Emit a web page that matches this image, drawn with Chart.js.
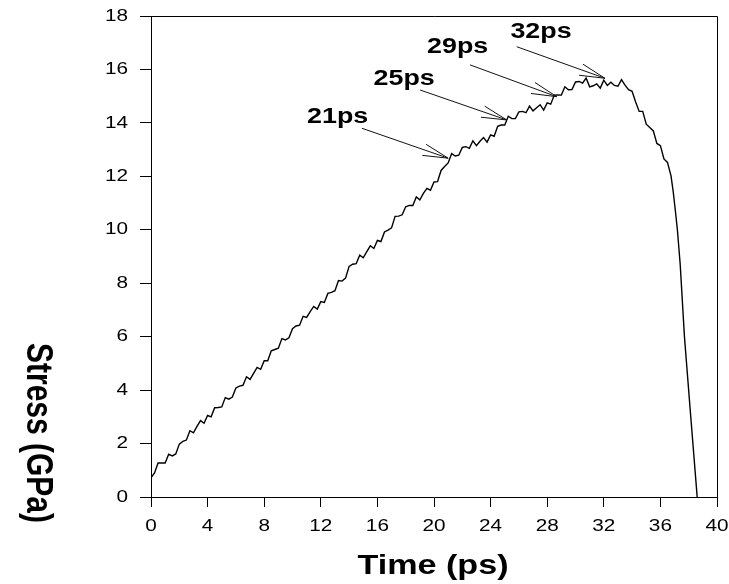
<!DOCTYPE html>
<html>
<head>
<meta charset="utf-8">
<script src="https://cdn.jsdelivr.net/npm/chart.js@4.4.1/dist/chart.umd.min.js"></script>
<style>
    body { margin: 0; background: #fff; }
    #wrap { width: 729px; height: 584px; position: relative; }
</style>
</head>
<body>
<div id="wrap"><canvas id="stressChart"></canvas></div>
<script>
// time axis (ps) and stress (GPa)
const timePs = [
    0, 0.25, 0.5, 0.75, 1, 1.25, 1.5, 1.75,
    2, 2.25, 2.5, 2.75, 3, 3.25, 3.5, 3.75,
    4, 4.25, 4.5, 4.75, 5, 5.25, 5.5, 5.75,
    6, 6.25, 6.5, 6.75, 7, 7.25, 7.5, 7.75,
    8, 8.25, 8.5, 8.75, 9, 9.25, 9.5, 9.75,
    10, 10.25, 10.5, 10.75, 11, 11.25, 11.5, 11.75,
    12, 12.25, 12.5, 12.75, 13, 13.25, 13.5, 13.75,
    14, 14.25, 14.5, 14.75, 15, 15.25, 15.5, 15.75,
    16, 16.25, 16.5, 16.75, 17, 17.25, 17.5, 17.75,
    18, 18.25, 18.5, 18.75, 19, 19.25, 19.5, 19.75,
    20, 20.25, 20.5, 20.75, 21, 21.25, 21.5, 21.75,
    22, 22.25, 22.5, 22.75, 23, 23.25, 23.5, 23.75,
    24, 24.25, 24.5, 24.75, 25, 25.25, 25.5, 25.75,
    26, 26.25, 26.5, 26.75, 27, 27.25, 27.5, 27.75,
    28, 28.25, 28.5, 28.75, 29, 29.25, 29.5, 29.75,
    30, 30.25, 30.5, 30.75, 31, 31.25, 31.5, 31.75,
    32, 32.25, 32.5, 32.75, 33, 33.25, 33.5, 33.75,
    34, 34.25, 34.5, 34.75, 35, 35.25, 35.5, 35.75,
    36, 36.25, 36.5, 36.75,
    36.9, 37.05, 37.2, 37.4, 37.7, 38.1, 38.6
];
const stressGPa = [
    0.72, 0.90, 1.27, 1.27, 1.27, 1.60, 1.54, 1.61,
    1.98, 2.08, 2.13, 2.48, 2.40, 2.64, 2.86, 2.76,
    3.05, 3.00, 3.34, 3.35, 3.37, 3.72, 3.66, 3.74,
    4.08, 4.15, 4.18, 4.50, 4.40, 4.63, 4.85, 4.78,
    5.10, 5.10, 5.47, 5.52, 5.57, 5.93, 5.88, 5.96,
    6.30, 6.40, 6.43, 6.76, 6.72, 6.94, 7.13, 7.03,
    7.31, 7.28, 7.62, 7.66, 7.72, 8.10, 8.08, 8.19,
    8.63, 8.71, 8.73, 9.05, 8.95, 9.18, 9.40, 9.30,
    9.60, 9.56, 9.92, 9.99, 10.07, 10.50, 10.51, 10.56,
    10.86, 10.91, 10.91, 11.23, 11.12, 11.36, 11.55, 11.48,
    11.79, 11.80, 12.22, 12.37, 12.50, 12.85, 12.76, 12.79,
    13.08, 13.11, 13.05, 13.33, 13.15, 13.31, 13.45, 13.28,
    13.55, 13.50, 13.87, 13.92, 13.92, 14.25, 14.16, 14.16,
    14.41, 14.43, 14.38, 14.63, 14.45, 14.57, 14.68, 14.48,
    14.75, 14.70, 15.04, 15.05, 15.04, 15.35, 15.24, 15.25,
    15.53, 15.55, 15.49, 15.68, 15.35, 15.39, 15.46, 15.30,
    15.60, 15.40, 15.52, 15.40, 15.37, 15.62, 15.41, 15.24,
    15.18, 14.78, 14.43, 14.43, 13.95, 13.83, 13.70, 13.23,
    13.15, 12.65, 12.52, 12.02,
    11.45, 10.75, 10.0, 8.7, 6.0, 3.3, 0
];

const xTicks = [0, 4, 8, 12, 16, 20, 24, 28, 32, 36, 40];
const yTicks = [0, 2, 4, 6, 8, 10, 12, 14, 16, 18];

// arrow annotations: label, point on the curve it marks
const arrowLabels = ['21ps', '25ps', '29ps', '32ps'];
const arrowTipTime = [21.0, 25.14, 28.67, 32.08];
const arrowTipStress = [12.68, 14.11, 14.98, 15.67];

const arrowTails = [[14.9, 13.8], [19.02, 15.23], [22.55, 16.17], [25.85, 16.85]];
const labelSpots = [[13.19, 14.0], [17.89, 15.42], [21.67, 16.62], [27.56, 17.18]];

const FONT = '"Liberation Sans", Arial, sans-serif';
const stretchX = 1.22; // the source text is wider than plain Arial

const points = timePs.map( ( t, i ) => ({ x: t, y: stressGPa[i] }) );

const stretchPlugin = {
    id: 'stretch',
    beforeInit( chart ) {
        const ctx = chart.ctx;
        const raw = ctx.fillText.bind( ctx );
        ctx.rawFillText = raw;
        ctx.fillText = function ( text, x, y, maxWidth ) {
            this.save();
            this.translate( x, y );
            this.scale( stretchX, 1 );
            if ( maxWidth === undefined ) raw( text, 0, 0 );
            else raw( text, 0, 0, maxWidth );
            this.restore();
        };
    }
};

const decorPlugin = {
    id: 'decor',
    afterDraw( chart ) {
        const ctx = chart.ctx;
        const a = chart.chartArea;
        const xs = chart.scales.x, ys = chart.scales.y;

        // frame top and right
        ctx.save();
        ctx.strokeStyle = '#000';
        ctx.lineWidth = 1;
        ctx.beginPath();
        ctx.moveTo( a.left, a.top + 0.5 );
        ctx.lineTo( a.right + 0.5, a.top + 0.5 );
        ctx.lineTo( a.right + 0.5, a.bottom );
        ctx.stroke();

        // arrows
        ctx.strokeStyle = '#111';
        for ( let i = 0; i < arrowLabels.length; i++ ) {
            const x1 = xs.getPixelForValue( arrowTails[i][0] );
            const y1 = ys.getPixelForValue( arrowTails[i][1] );
            const x2 = xs.getPixelForValue( arrowTipTime[i] );
            const y2 = ys.getPixelForValue( arrowTipStress[i] );
            const ang = Math.atan2( y2 - y1, x2 - x1 );
            const len = 26, spread = 13 * Math.PI / 180;
            ctx.beginPath();
            ctx.moveTo( x1, y1 );
            ctx.lineTo( x2, y2 );
            ctx.moveTo( x2 - len * Math.cos( ang - spread ), y2 - len * Math.sin( ang - spread ) );
            ctx.lineTo( x2, y2 );
            ctx.lineTo( x2 - len * Math.cos( ang + spread ), y2 - len * Math.sin( ang + spread ) );
            ctx.stroke();

            ctx.fillStyle = '#000';
            ctx.font = 'bold 22px ' + FONT;
            ctx.textAlign = 'center';
            ctx.textBaseline = 'alphabetic';
            ctx.fillText( arrowLabels[i], xs.getPixelForValue( labelSpots[i][0] ), ys.getPixelForValue( labelSpots[i][1] ) );
        }

        // axis titles
        ctx.fillStyle = '#000';
        ctx.textAlign = 'center';
        ctx.textBaseline = 'alphabetic';
        ctx.font = 'bold 28px ' + FONT;
        ctx.fillText( 'Time (ps)', 433, 574 );

        ctx.font = 'bold 30px ' + FONT;
        ctx.textBaseline = 'middle';
        ctx.translate( 37, 433 );
        ctx.scale( stretchX, 1 );
        ctx.rotate( Math.PI / 2 );
        ctx.rawFillText( 'Stress (GPa)', 0, 0 );
        ctx.restore();
    }
};

new Chart( document.getElementById( 'stressChart' ), {
    type: 'line',
    data: {
        datasets: [{
            label: 'Stress',
            data: points,
            borderColor: '#000',
            borderWidth: 1.4,
            pointRadius: 0,
            tension: 0,
            fill: false
        }]
    },
    options: {
        responsive: true,
        maintainAspectRatio: false,
        animation: false,
        layout: { padding: { top: 16, right: 12, left: 0, bottom: 0 } },
        plugins: {
            legend: { display: false },
            tooltip: { enabled: false }
        },
        scales: {
            x: {
                type: 'linear',
                min: 0,
                max: 40,
                afterFit: ( s ) => {
                    s.height = 87;
                    s.paddingLeft = 0;
                    s.paddingRight = 0;
                },
                afterBuildTicks: ( s ) => { s.ticks = xTicks.map( v => ({ value: v }) ); },
                grid: { drawOnChartArea: false, color: '#000', tickLength: 10 },
                border: { color: '#000', width: 1 },
                ticks: { color: '#000', padding: 9, maxRotation: 0, font: { family: FONT, size: 17 } }
            },
            y: {
                min: 0,
                max: 18,
                afterFit: ( s ) => {
                    s.width = 151;
                    s.paddingTop = 0;
                    s.paddingBottom = 0;
                },
                afterBuildTicks: ( s ) => { s.ticks = yTicks.map( v => ({ value: v }) ); },
                grid: { drawOnChartArea: false, color: '#000', tickLength: 11 },
                border: { color: '#000', width: 1 },
                ticks: { color: '#000', padding: 12, font: { family: FONT, size: 17 } }
            }
        }
    },
    plugins: [stretchPlugin, decorPlugin]
} );
</script>
</body>
</html>
